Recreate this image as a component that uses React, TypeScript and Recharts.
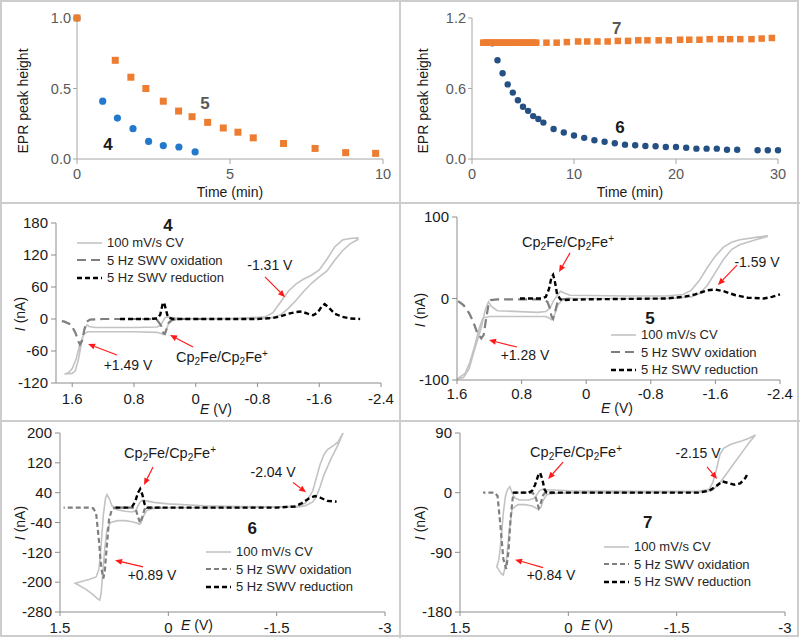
import {
  LineChart, Line, ScatterChart, Scatter, XAxis, YAxis,
  ReferenceLine, ReferenceDot, Legend,
} from "recharts"

const FONT = "'Liberation Sans', Arial, Helvetica, sans-serif"
const INK = "#1a1a1a"
const AXIS = "#8c8c8c"

// ---------- EPR decay, top row ----------
const time4 = [0, 0.84, 1.32, 1.83, 2.34, 2.82, 3.33, 3.86]
const peak4 = [1.0, 0.41, 0.29, 0.215, 0.125, 0.095, 0.085, 0.05]
const time5 = [0, 1.25, 1.76, 2.25, 2.82, 3.32, 3.76, 4.27, 4.78, 5.26, 5.76, 6.75, 7.78, 8.78, 9.76]
const peak5 = [1.0, 0.7, 0.58, 0.5, 0.41, 0.34, 0.3, 0.26, 0.22, 0.19, 0.15, 0.11, 0.075, 0.045, 0.04]

const time6 = [2, 2.5, 3, 3.5, 4, 4.5, 5, 5.5, 6, 6.5, 7, 8, 9, 10, 11, 12, 13, 14, 15, 16, 17, 18, 19, 20, 21, 22, 23, 24, 25, 26, 28, 29, 30]
const peak6 = [0.985, 0.84, 0.73, 0.635, 0.565, 0.5, 0.445, 0.41, 0.365, 0.34, 0.31, 0.255, 0.225, 0.2, 0.18, 0.16, 0.147, 0.134, 0.122, 0.117, 0.111, 0.108, 0.102, 0.102, 0.096, 0.088, 0.088, 0.088, 0.079, 0.079, 0.074, 0.074, 0.074]
const time7 = [1.1, 1.3, 1.5, 1.7, 1.9, 2.1, 2.3, 2.5, 2.7, 2.9, 3.1, 3.3, 3.5, 3.7, 3.9, 4.1, 4.3, 4.5, 4.7, 4.9, 5.1, 5.3, 5.5, 5.7, 5.9, 6.1, 6.3,
  7.3, 8.3, 9.3, 10.4, 11.3, 12.3, 13.3, 14.3, 15.3, 16.3, 17.2, 18.3, 19.3, 20.4, 21.3, 22.3, 23.3, 24.4, 25.3, 26.3, 27.4, 28.4, 29.4]
const peak7 = [0.99, 0.99, 0.99, 0.99, 0.99, 0.99, 0.99, 0.99, 0.99, 0.99, 0.99, 0.99, 0.99, 0.99, 0.99, 0.99, 0.99, 0.99, 0.99, 0.99, 0.99, 0.99, 0.99, 0.99, 0.99, 0.99, 0.99,
  0.99, 0.99, 0.995, 1.0, 1.0, 1.0, 1.0, 1.005, 1.005, 1.01, 1.01, 1.01, 1.01, 1.015, 1.015, 1.015, 1.02, 1.02, 1.02, 1.02, 1.02, 1.025, 1.03]

const eprTicksA = [0, 5, 10]
const eprHeightA = [0, 0.5, 1.0]
const eprTicksB = [0, 10, 20, 30]
const eprHeightB = [0, 0.6, 1.2]

// ---------- voltammetry, [E (V), I (nA)] ----------
const cv4 = [[0.2, 1], [-0.5, 1], [-0.9, 4], [-1.0, 12], [-1.1, 32], [-1.2, 52], [-1.3, 66], [-1.4, 75], [-1.5, 82], [-1.6, 92], [-1.7, 112], [-1.8, 135], [-1.9, 148], [-2.0, 151], [-2.1, 152],
  [-2.1, 149], [-2.0, 141], [-1.9, 128], [-1.8, 110], [-1.7, 90], [-1.6, 79], [-1.5, 67], [-1.4, 52], [-1.3, 35], [-1.2, 20], [-1.1, 8], [-1.0, 3], [-0.9, 1], [-0.5, 0], [0.2, 0],
  [0.3, -2], [0.35, -8], [0.38, -20], [0.4, -27], [0.42, -29], [0.45, -27], [0.5, -25], [0.8, -24], [1.2, -24], [1.4, -24], [1.45, -28], [1.5, -48], [1.55, -75], [1.6, -93], [1.65, -101], [1.7, -103],
  [1.6, -102], [1.56, -97], [1.52, -76], [1.48, -45], [1.44, -20], [1.41, -11], [1.38, -14], [1.3, -16], [0.8, -16], [0.5, -15], [0.45, -11], [0.42, -3], [0.4, 2], [0.37, 4], [0.33, 3], [0.2, 1]]
const ox4 = [[-0.1, 0], [0.2, 0], [0.3, -1], [0.35, -7], [0.38, -20], [0.4, -28], [0.42, -26], [0.45, -12], [0.5, -2], [0.6, 0], [1.2, 0], [1.37, -1], [1.41, -5], [1.44, -18], [1.47, -40], [1.5, -48], [1.52, -42], [1.56, -25], [1.62, -10], [1.7, -5], [1.8, -2]]
const red4 = [[0.98, 0], [0.6, 0], [0.5, 1], [0.46, 8], [0.43, 27], [0.41, 31], [0.39, 20], [0.36, 3], [0.3, 0], [-0.8, 0], [-1.0, 2], [-1.1, 5], [-1.2, 10], [-1.3, 13], [-1.37, 14], [-1.45, 10], [-1.52, 7], [-1.58, 12], [-1.63, 23], [-1.67, 28], [-1.72, 22], [-1.8, 10], [-1.9, 4], [-2.0, 1], [-2.13, 0]]

const cv5 = [[0.2, 4], [-0.5, 3], [-1.0, 3], [-1.2, 5], [-1.3, 10], [-1.4, 22], [-1.5, 38], [-1.6, 52], [-1.7, 63], [-1.8, 69], [-1.9, 72], [-2.1, 75], [-2.24, 77],
  [-2.24, 76], [-2.1, 72], [-1.9, 66], [-1.8, 60], [-1.7, 48], [-1.6, 32], [-1.5, 16], [-1.4, 6], [-1.3, 2], [-1.0, 0], [0.2, 0],
  [0.3, -2], [0.35, -8], [0.4, -22], [0.43, -26], [0.46, -24], [0.5, -22], [1.2, -22], [1.28, -24], [1.33, -38], [1.38, -58], [1.44, -78], [1.5, -92], [1.6, -99],
  [1.52, -97], [1.45, -86], [1.38, -62], [1.3, -36], [1.25, -14], [1.21, -4], [1.17, -10], [1.1, -15], [0.6, -17], [0.5, -16], [0.45, -12], [0.4, -2], [0.35, 5], [0.32, 9], [0.28, 7], [0.2, 4]]
const ox5 = [[0.2, 0], [0.32, -1], [0.36, -6], [0.39, -18], [0.41, -25], [0.43, -22], [0.45, -12], [0.48, -4], [0.55, -1], [0.8, -1], [1.1, -1], [1.18, -2], [1.21, -8], [1.24, -25], [1.27, -45], [1.3, -49], [1.35, -42], [1.4, -28], [1.45, -18], [1.52, -8], [1.6, -2]]
const red5 = [[0.82, 0], [0.55, 0], [0.5, 2], [0.46, 12], [0.43, 26], [0.41, 29], [0.39, 22], [0.36, 5], [0.32, -1], [0.3, -2], [0, -1], [-1.0, 0], [-1.2, 2], [-1.35, 5], [-1.5, 10], [-1.6, 11], [-1.7, 9], [-1.85, 4], [-2.0, 1], [-2.2, 0], [-2.3, 2], [-2.4, 5]]

const cv6 = [[0.2, 14], [0, 10], [-0.5, 5], [-1.0, 3], [-1.5, 2], [-1.8, 4], [-1.9, 12], [-2.0, 45], [-2.05, 80], [-2.1, 115], [-2.15, 140], [-2.2, 155], [-2.3, 168], [-2.35, 176], [-2.42, 200],
  [-2.35, 168], [-2.25, 130], [-2.15, 85], [-2.1, 55], [-2.05, 30], [-2.0, 15], [-1.9, 5], [-1.8, 2], [-1.0, 0], [0, 0], [0.2, -2],
  [0.3, -8], [0.35, -25], [0.38, -42], [0.4, -45], [0.43, -42], [0.5, -38], [0.6, -35], [0.7, -35], [0.8, -40], [0.85, -60], [0.88, -110], [0.91, -180], [0.93, -230], [0.95, -248], [0.98, -245], [1.05, -232], [1.15, -218], [1.29, -203],
  [1.2, -198], [1.1, -193], [1.0, -186], [0.96, -165], [0.93, -100], [0.9, -20], [0.87, 25], [0.85, 35], [0.82, 25], [0.78, 5], [0.72, -5], [0.6, -10], [0.5, -12], [0.45, -8], [0.42, 5], [0.39, 15], [0.36, 20], [0.3, 18], [0.2, 14]]
const ox6 = [[0.1, 0], [0.3, 0], [0.33, -5], [0.36, -25], [0.39, -41], [0.42, -25], [0.45, -5], [0.5, 0], [0.74, 0], [0.78, -5], [0.82, -30], [0.85, -100], [0.88, -170], [0.9, -190], [0.93, -160], [0.96, -90], [1.0, -15], [1.04, -2], [1.1, 0], [1.45, 0]]
const red6 = [[0.73, 0], [0.55, 0], [0.5, 3], [0.46, 15], [0.42, 40], [0.39, 50], [0.36, 35], [0.33, 10], [0.3, 0], [0, 0], [-1.5, 0], [-1.75, 3], [-1.85, 12], [-1.95, 25], [-2.03, 31], [-2.1, 27], [-2.2, 18], [-2.33, 16]]

const cv7 = [[0.2, 4], [0, 3], [-1.0, 2], [-1.8, 2], [-1.95, 5], [-2.0, 15], [-2.05, 35], [-2.1, 58], [-2.15, 67], [-2.25, 73], [-2.4, 78], [-2.5, 82], [-2.59, 87],
  [-2.5, 75], [-2.4, 60], [-2.3, 45], [-2.2, 30], [-2.1, 15], [-2.0, 4], [-1.9, 1], [-1.0, 0], [0, 0], [0.2, -1],
  [0.3, -3], [0.35, -12], [0.38, -22], [0.41, -25], [0.45, -23], [0.5, -20], [0.6, -18], [0.7, -18], [0.78, -25], [0.82, -60], [0.86, -105], [0.9, -124], [0.93, -122], [0.97, -115], [0.99, -112],
  [0.96, -100], [0.93, -70], [0.9, -30], [0.87, -5], [0.84, 5], [0.81, 9], [0.78, 0], [0.74, -8], [0.68, -11], [0.55, -11], [0.48, -9], [0.44, -4], [0.4, 3], [0.36, 5], [0.3, 4], [0.2, 4]]
const ox7 = [[0.2, 0], [0.32, 0], [0.35, -4], [0.38, -15], [0.41, -23], [0.43, -15], [0.46, -4], [0.5, 0], [0.74, 0], [0.77, -8], [0.8, -40], [0.83, -90], [0.86, -115], [0.9, -100], [0.94, -50], [0.98, -5], [1.02, 0], [1.18, 0]]
const red7 = [[0.77, 0], [0.55, 0], [0.5, 3], [0.46, 12], [0.42, 25], [0.39, 30], [0.36, 20], [0.33, 5], [0.3, 0], [-1.8, 0], [-1.95, 3], [-2.05, 10], [-2.13, 17], [-2.2, 15], [-2.3, 12], [-2.38, 14], [-2.45, 22], [-2.49, 30]]

const eTicksA = [1.6, 0.8, 0, -0.8, -1.6, -2.4]
const eTicksB = [1.5, 0, -1.5, -3]
const iTicks4 = [-120, -60, 0, 60, 120, 180]
const iTicks5 = [-100, 0, 100]
const iTicks6 = [-280, -200, -120, -40, 40, 120, 200]
const iTicks7 = [-180, -90, 0, 90]

const SERIES_NAMES = ["100 mV/s CV", "5 Hz SWV oxidation", "5 Hz SWV reduction"]

const eprRows = (t: number[], h: number[]) => t.map((v, k) => ({ t: v, h: h[k] }))
const cvRows = (pts: number[][]) => pts.map(([e, i]) => ({ e, i }))

// ---------- drawing helpers ----------
const square = (color: string, s: number) => (p: any) =>
  <rect x={p.cx - s / 2} y={p.cy - s / 2} width={s} height={s} fill={color} />
const circle = (color: string, r: number) => (p: any) =>
  <circle cx={p.cx} cy={p.cy} r={r} fill={color} />

const tagShape = (text: string, color = INK, size = 17, bold = true) => (p: any) => (
  <text x={p.cx} y={p.cy + size * 0.36} textAnchor="middle" fontFamily={FONT} fontSize={size}
    fontWeight={bold ? 700 : 400} fill={color}>{text}</text>
)

const ferroceneShape = (p: any) => (
  <text x={p.cx} y={p.cy + 5} textAnchor="middle" fontFamily={FONT} fontSize={14.5} fill={INK}>
    Cp<tspan fontSize={10} dy={3}>2</tspan><tspan dy={-3}>Fe/Cp</tspan>
    <tspan fontSize={10} dy={3}>2</tspan><tspan dy={-3}>Fe</tspan><tspan fontSize={10} dy={-5}>+</tspan>
  </text>
)

const arrowShape = (p: any) => {
  const { x1, y1, x2, y2 } = p
  const a = Math.atan2(y2 - y1, x2 - x1)
  const bx = x2 - 7 * Math.cos(a)
  const by = y2 - 7 * Math.sin(a)
  const w = 3
  const pts = `${x2},${y2} ${bx + w * Math.sin(a)},${by - w * Math.cos(a)} ${bx - w * Math.sin(a)},${by + w * Math.cos(a)}`
  return (
    <g>
      <line x1={x1} y1={y1} x2={bx} y2={by} stroke="#ff1a1a" strokeWidth={1.2} />
      <polygon points={pts} fill="#ff1a1a" />
    </g>
  )
}

const axisTitle = (x: number, y: number, parts: [string, boolean][], rotate = false) => () => (
  <text x={x} y={y} textAnchor="middle" fontFamily={FONT} fontSize={14} fill={INK}
    transform={rotate ? `rotate(-90 ${x} ${y})` : undefined}>
    {parts.map(([s, it], k) => <tspan key={k} fontStyle={it ? "italic" : "normal"}>{s}</tspan>)}
  </text>
)

type LineLook = { stroke: string; width: number; dash?: string }

const legendContent = (looks: LineLook[]) => (props: any) => (
  <div style={{ fontFamily: FONT, fontSize: 13, color: "#262626" }}>
    {(props.payload ?? []).map((entry: any, k: number) => {
      const look = looks[SERIES_NAMES.indexOf(entry.value)] ?? looks[k]
      return (
        <div key={entry.value} style={{ display: "flex", alignItems: "center", height: 17.5, whiteSpace: "nowrap" }}>
          <svg width={28} height={10} style={{ marginRight: 3 }}>
            <line x1={1} y1={5} x2={26} y2={5} stroke={look.stroke} strokeWidth={look.width} strokeDasharray={look.dash} />
          </svg>
          <span>{entry.value}</span>
        </div>
      )
    })}
  </div>
)

// ---------- panels ----------
function EprPanel(props: any) {
  const { left, yWidth, right, xMax, xTicks, yMax, yTicks, series, tags } = props
  const tickStyle = { fill: "#595959", fontSize: 14.5, fontFamily: FONT }
  return (
    <div style={{ position: "absolute", left, top: 0 }}>
      <ScatterChart width={400} height={203} margin={{ top: 18, right, bottom: 0, left: 0 }}>
        <XAxis type="number" dataKey="t" domain={[0, xMax]} ticks={xTicks} height={44}
          tick={tickStyle} tickSize={5} tickMargin={5}
          axisLine={{ stroke: "#a6a6a6" }} tickLine={{ stroke: "#a6a6a6" }}
          label={{ content: axisTitle(230, 197, [["Time (min)", false]]) }} />
        <YAxis type="number" dataKey="h" domain={[0, yMax]} ticks={yTicks} width={yWidth}
          tick={tickStyle} tickSize={4} tickMargin={2} tickFormatter={(v: number) => v.toFixed(1)}
          axisLine={{ stroke: "#a6a6a6" }} tickLine={{ stroke: "#a6a6a6" }}
          label={{ content: axisTitle(28, 101, [["EPR peak height", false]], true) }} />
        {series.map((s: any) => (
          <Scatter key={s.name} name={s.name} data={s.rows} shape={s.shape} isAnimationActive={false} />
        ))}
        {tags.map((g: any) => (
          <ReferenceDot key={g.text} x={g.x} y={g.y} shape={tagShape(g.text, g.color)} />
        ))}
      </ScatterChart>
    </div>
  )
}

function CvPanel(props: any) {
  const { left, top, height, marginTop, right, yWidth, xHeight, xDomain, xTicks, yDomain, yTicks,
    cv, ox, red, oxDash, legendAt, yTitleAt, xTitleAt, tag, ferro, notes, arrows, tickGap } = props
  const looks: LineLook[] = [
    { stroke: "#c3c3c3", width: 1.6 },
    { stroke: "#7f7f7f", width: 2.2, dash: oxDash },
    { stroke: "#000000", width: 2.4, dash: "5 3" },
  ]
  const tickStyle = { fill: INK, fontSize: 15, fontFamily: FONT }
  return (
    <div style={{ position: "absolute", left, top }}>
      <LineChart width={400} height={height} margin={{ top: marginTop, right, bottom: 0, left: 0 }}>
        <XAxis type="number" dataKey="e" domain={xDomain} ticks={xTicks} reversed height={xHeight}
          tick={tickStyle} tickSize={4} tickMargin={tickGap}
          axisLine={{ stroke: AXIS }} tickLine={{ stroke: AXIS }}
          label={{ content: axisTitle(xTitleAt[0], xTitleAt[1], [["E", true], [" (V)", false]]) }} />
        <YAxis type="number" domain={yDomain} ticks={yTicks} width={yWidth}
          tick={tickStyle} tickSize={5} tickMargin={3}
          axisLine={{ stroke: AXIS }} tickLine={{ stroke: AXIS }}
          label={{ content: axisTitle(yTitleAt[0], yTitleAt[1], [["I", true], [" (nA)", false]], true) }} />
        <Legend layout="vertical" align="center" verticalAlign="middle"
          wrapperStyle={{ left: legendAt[0], top: legendAt[1], width: "auto" }}
          content={legendContent(looks)} />
        <Line data={cvRows(cv)} dataKey="i" name={SERIES_NAMES[0]} stroke={looks[0].stroke} strokeWidth={looks[0].width}
          dot={false} isAnimationActive={false} />
        <Line data={cvRows(ox)} dataKey="i" name={SERIES_NAMES[1]} stroke={looks[1].stroke} strokeWidth={looks[1].width}
          strokeDasharray={oxDash} dot={false} isAnimationActive={false} />
        <Line data={cvRows(red)} dataKey="i" name={SERIES_NAMES[2]} stroke={looks[2].stroke} strokeWidth={looks[2].width}
          strokeDasharray="5 3" dot={false} isAnimationActive={false} />
        {arrows.map((a: number[][], k: number) => (
          <ReferenceLine key={`a${k}`} segment={[{ x: a[0][0], y: a[0][1] }, { x: a[1][0], y: a[1][1] }]} shape={arrowShape} />
        ))}
        <ReferenceDot x={tag.e} y={tag.i} shape={tagShape(tag.text)} />
        <ReferenceDot x={ferro[0]} y={ferro[1]} shape={ferroceneShape} />
        {notes.map((n: any) => (
          <ReferenceDot key={n.text} x={n.e} y={n.i} shape={tagShape(n.text, INK, 14, false)} />
        ))}
      </LineChart>
    </div>
  )
}

const line = (style: any) => <div style={{ position: "absolute", background: "#cdcdcd", ...style }} />

export default function App() {
  return (
    <div style={{ position: "absolute", left: 0, top: 0, width: 800, height: 638, background: "#fff", overflow: "hidden" }}>
      <div style={{ position: "absolute", left: 0, top: 0, width: 799, height: 637, border: "2px solid #cdcdcd", boxSizing: "border-box" }} />
      {line({ left: 0, top: 202, width: 800, height: 2 })}
      {line({ left: 0, top: 420, width: 800, height: 2 })}
      {line({ left: 399, top: 0, width: 2, height: 638 })}

      <EprPanel left={0} yWidth={77} right={17} xMax={10} xTicks={eprTicksA} yMax={1.0} yTicks={eprHeightA}
        series={[
          { name: "4", rows: eprRows(time4, peak4), shape: circle("#2479cc", 3.6) },
          { name: "5", rows: eprRows(time5, peak5), shape: square("#ed7d31", 7) },
        ]}
        tags={[{ text: "5", x: 4.18, y: 0.4, color: "#595959" }, { text: "4", x: 1.01, y: 0.11, color: INK }]} />
      <EprPanel left={400} yWidth={72} right={22} xMax={30} xTicks={eprTicksB} yMax={1.2} yTicks={eprHeightB}
        series={[
          { name: "6", rows: eprRows(time6, peak6), shape: circle("#255083", 3.2) },
          { name: "7", rows: eprRows(time7, peak7), shape: square("#ed7d31", 6.5) },
        ]}
        tags={[{ text: "7", x: 14.2, y: 1.12, color: "#595959" }, { text: "6", x: 14.5, y: 0.27, color: INK }]} />

      <CvPanel left={0} top={203} height={215} marginTop={20} right={19} yWidth={56} xHeight={35}
        xDomain={[-2.4, 1.81]} xTicks={eTicksA} yDomain={[-120, 180]} yTicks={iTicks4}
        cv={cv4} ox={ox4} red={red4} oxDash="9 5" tickGap={6}
        legendAt={[76, 31]} yTitleAt={[25, 111]} xTitleAt={[216, 211]}
        tag={{ text: "4", e: 0.36, i: 176 }} ferro={[-0.34, -71]}
        notes={[{ text: "-1.31 V", e: -0.96, i: 101 }, { text: "+1.49 V", e: 0.877, i: -86 }]}
        arrows={[[[-0.897, 79], [-1.157, 41]], [[1.02, -67.5], [1.395, -47]], [[0.035, -52.5], [0.333, -30]]]} />
      <CvPanel left={400} top={203} height={215} marginTop={14} right={20} yWidth={57} xHeight={38}
        xDomain={[-2.4, 1.6]} xTicks={eTicksA} yDomain={[-100, 100]} yTicks={iTicks5}
        cv={cv5} ox={ox5} red={red5} oxDash="9 5" tickGap={4}
        legendAt={[210, 123]} yTitleAt={[25, 107]} xTitleAt={[217, 210]}
        tag={{ text: "5", e: -0.79, i: -24 }} ferro={[0.225, 69]}
        notes={[{ text: "-1.59 V", e: -2.115, i: 45 }, { text: "+1.28 V", e: 0.758, i: -69 }]}
        arrows={[[[0.2, 56], [0.337, 32.5]], [[-1.867, 41], [-1.632, 16.6]], [[0.857, -59.5], [1.204, -51]]]} />
      <CvPanel left={0} top={421} height={217} marginTop={12} right={15} yWidth={60} xHeight={26}
        xDomain={[-3, 1.5]} xTicks={eTicksB} yDomain={[-280, 200]} yTicks={iTicks6}
        cv={cv6} ox={ox6} red={red6} oxDash="5 3" tickGap={6}
        legendAt={[205, 122]} yTitleAt={[25, 102]} xTitleAt={[197, 209]}
        tag={{ text: "6", e: -1.16, i: -55 }} ferro={[-0.024, 146]}
        notes={[{ text: "-2.04 V", e: -1.45, i: 95 }, { text: "+0.89 V", e: 0.226, i: -181 }]}
        arrows={[[[0.212, 109], [0.337, 60.6]], [[-1.727, 67], [-1.907, 41]], [[0.35, -159], [0.738, -141]]]} />
      <CvPanel left={400} top={421} height={217} marginTop={12} right={15} yWidth={60} xHeight={26}
        xDomain={[-3, 1.5]} xTicks={eTicksB} yDomain={[-180, 90]} yTicks={iTicks7}
        cv={cv7} ox={ox7} red={red7} oxDash="5 3" tickGap={6}
        legendAt={[203, 117]} yTitleAt={[25, 102]} xTitleAt={[197, 209]}
        tag={{ text: "7", e: -1.1, i: -44 }} ferro={[-0.107, 61]}
        notes={[{ text: "-2.15 V", e: -1.796, i: 60 }, { text: "+0.84 V", e: 0.24, i: -124 }]}
        arrows={[[[0.073, 46], [0.281, 20.7]], [[-1.92, 38.8], [-2.06, 20.7]], [[0.35, -113], [0.738, -101]]]} />
    </div>
  )
}
